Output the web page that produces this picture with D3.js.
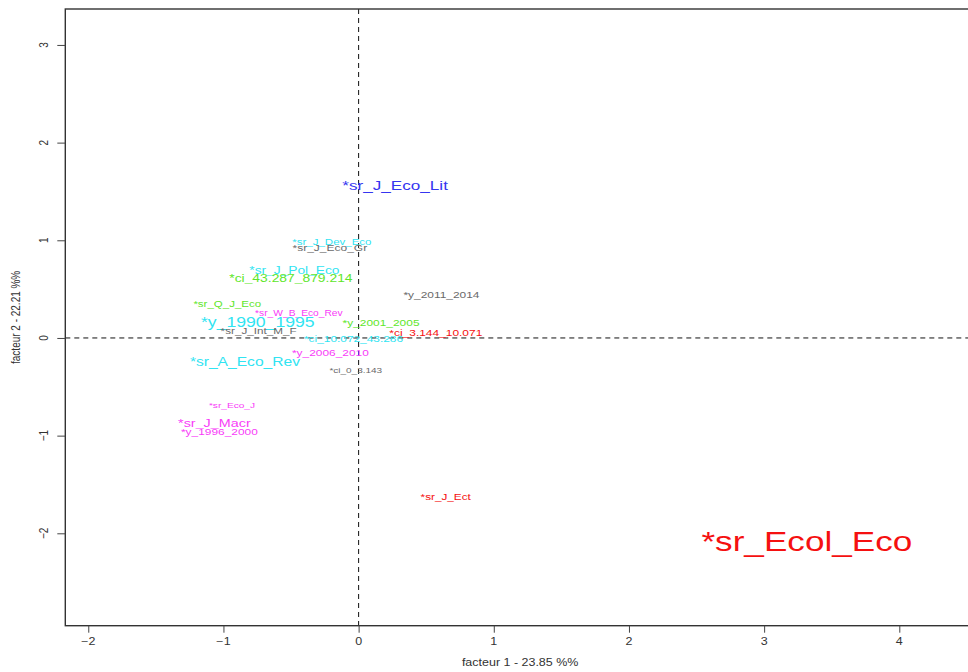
<!DOCTYPE html>
<html><head><meta charset="utf-8">
<script src="https://cdn.jsdelivr.net/npm/d3@7"></script>
<style>body{margin:0;background:#fff}svg{display:block;font-family:"Liberation Sans",Arial,sans-serif}</style>
</head><body><svg id="c" width="968" height="672"></svg>
<script>
const labels = ["*sr_J_Eco_Lit","*sr_J_Dev_Eco","*sr_J_Eco_Gr","*sr_J_Pol_Eco","*ci_43.287_879.214","*y_2011_2014","*sr_Q_J_Eco","*sr_W_B_Eco_Rev","*y_1990_1995","*y_2001_2005","*sr_J_Int_M_F","*ci_3.144_10.071","*ci_10.072_43.286","*y_2006_2010","*sr_A_Eco_Rev","*ci_0_3.143","*sr_Eco_J","*sr_J_Macr","*y_1996_2000","*sr_J_Ect","*sr_Ecol_Eco"];
const factor1 = [0.270,-0.198,-0.213,-0.475,-0.501,0.613,-0.972,-0.442,-0.746,0.166,-0.740,0.571,-0.038,-0.209,-0.841,-0.021,-0.937,-1.067,-1.030,0.644,3.316];
const factor2 = [1.559,0.986,0.929,0.696,0.611,0.440,0.355,0.259,0.167,0.161,0.075,0.058,-0.003,-0.151,-0.243,-0.335,-0.693,-0.873,-0.959,-1.625,-2.078];
const groups = ["blue","cyan","gray","cyan","green","gray","green","magenta","cyan","green","gray","red","cyan","magenta","cyan","gray","magenta","magenta","magenta","red","red"];
const labelSize = [13.7,9.2,9.6,11.0,11.1,9.55,9.2,8.2,14.1,9.55,9.35,9.56,9.5,9.55,12.5,8.0,8.1,11.5,9.55,9.4,28.1];
const xTicks = [-2,-1,0,1,2,3,4];
const yTicks = [-2,-1,0,1,2,3];
const xTitle = "facteur  1  - 23.85 %%";
const yTitle = "facteur 2 - 22.21 %%";

const colors = {blue:"#3535f0",cyan:"#30e4f2",gray:"#6a6a6a",green:"#5ee62a",magenta:"#f83cf8",red:"#f51010"};
const SX = 1.25;
const svg = d3.select("#c");
const L = 65.3, R = 975, T = 9, B = 625.7;
const x = d3.scaleLinear().domain([-2.17,4.56]).range([L,R]);
const y = d3.scaleLinear().domain([-2.946,3.368]).range([B,T]);

function stext(g, px, py, txt, size, color, rot){
  const t = g.append("g").attr("transform",`translate(${px},${py}) scale(${SX},1)` + (rot?` rotate(${rot})`:""))
   .append("text").attr("text-anchor","middle").attr("dy","0.35em")
   .attr("font-size",size).attr("fill",color).text(txt);
  return t;
}

// dashed zero lines
svg.append("line").attr("x1",x(0)).attr("x2",x(0)).attr("y1",T).attr("y2",B)
  .attr("stroke","#111").attr("stroke-width",1).attr("stroke-dasharray","5,4");
svg.append("line").attr("x1",L).attr("x2",R).attr("y1",y(0)).attr("y2",y(0))
  .attr("stroke","#111").attr("stroke-width",1).attr("stroke-dasharray","5,4");

// box
svg.append("rect").attr("x",L).attr("y",T).attr("width",R-L).attr("height",B-T)
  .attr("fill","none").attr("stroke","#333").attr("stroke-width",1.4);

// axes
const ax = svg.append("g").attr("transform",`translate(0,${B})`)
  .call(d3.axisBottom(x).tickValues(xTicks).tickSize(7).tickFormat(d3.format("d")));
ax.select(".domain").remove();
ax.selectAll(".tick line").attr("stroke","#444");
ax.selectAll(".tick text").remove();
const ay = svg.append("g").attr("transform",`translate(${L},0)`)
  .call(d3.axisLeft(y).tickValues(yTicks).tickSize(8).tickFormat(d3.format("d")));
ay.select(".domain").remove();
ay.selectAll(".tick line").attr("stroke","#444");
ay.selectAll(".tick text").remove();

const tg = svg.append("g");
xTicks.forEach(v => stext(tg, x(v), 641.5, d3.format("d")(v).replace("-","-"), 10, "#333"));
yTicks.forEach(v => stext(tg, 44, y(v), d3.format("d")(v), 10, "#333", -90));
stext(tg, (L+R)/2, 662, xTitle, 10, "#333");
stext(tg, 16, (T+B)/2, yTitle, 10, "#333", -90);

// labels
const lg = svg.append("g");
labels.forEach((lab,i) => stext(lg, x(factor1[i]), y(factor2[i]), lab, labelSize[i], colors[groups[i]]));
</script></body></html>
